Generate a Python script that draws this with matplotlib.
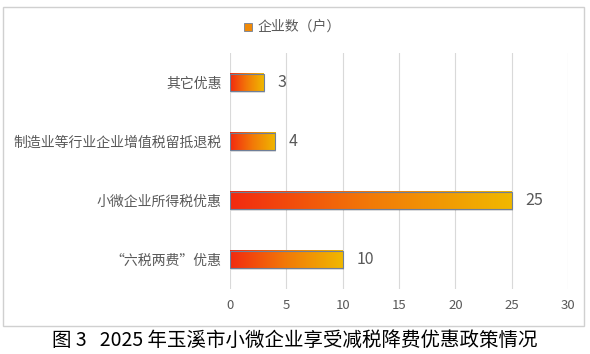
import matplotlib
matplotlib.use("Agg")
import matplotlib.pyplot as plt
import numpy as np
from matplotlib.colors import LinearSegmentedColormap
from matplotlib.patches import Rectangle

plt.rcParams['font.family'] = ['Noto Sans CJK SC', 'DejaVu Sans']

# data, top to bottom as in the picture
categories = ["其它优惠", "制造业等行业企业增值税留抵退税", "小微企业所得税优惠", "“六税两费”优惠"]
values = [3, 4, 25, 10]
series_name = "企业数（户）"
xticks = [0, 5, 10, 15, 20, 25, 30]
caption = "图 3   2025 年玉溪市小微企业享受减税降费优惠政策情况"

grad = LinearSegmentedColormap.from_list("g", ["#f32a10", "#f27a08", "#f0b800"])
txt = "#595959"

fig = plt.figure(figsize=(5.9, 3.54), dpi=100)
ax = fig.add_axes([230/590, 1-289/354, 338/590, 236/354])

ypos = np.arange(len(categories))[::-1]
bars = ax.barh(ypos, values, height=0.29, color="none", edgecolor="#6f7f99", linewidth=0.8, zorder=4)

g = np.linspace(0, 1, 256).reshape(1, -1)
for b in bars:
    x0, y0 = b.get_x(), b.get_y()
    w, h = b.get_width(), b.get_height()
    # soft shadow
    ax.add_patch(Rectangle((x0 + 0.12, y0 - 0.04), w, h, color="#000000", alpha=0.12, lw=0, zorder=2))
    ax.imshow(g, cmap=grad, aspect="auto", extent=(x0, x0 + w, y0, y0 + h), zorder=3)
    ax.text(x0 + w + 1.2, y0 + h/2, str(int(w)), va="center", ha="left", fontsize=11.5, color=txt)

ax.set_xlim(0, 30)
ax.set_ylim(-0.5, 3.5)
ax.set_xticks(xticks)
ax.set_xticklabels([str(t) for t in xticks], fontsize=9.5, color=txt)
ax.set_yticks(ypos)
ax.set_yticklabels(categories, fontsize=10, color=txt)
ax.tick_params(length=0, pad=6)
ax.tick_params(axis="x", pad=7)
ax.grid(axis="x", color="#d9d9d9", linewidth=0.8, zorder=0)
ax.set_axisbelow(True)
for s in ax.spines.values():
    s.set_visible(False)

# legend
lx, ly = 248/590, 1-27/354
fig.add_artist(Rectangle((lx - 4/590, ly - 4/354), 8/590, 8/354, transform=fig.transFigure,
                         facecolor="#f08a08", edgecolor="#6f7f99", lw=0.6))
fig.text(lx + 10/590, ly, series_name, fontsize=10, color=txt, va="center", ha="left")

# chart border
fig.add_artist(Rectangle((3/590, 1-326/354), 581/590, 319/354, transform=fig.transFigure,
                         fill=False, edgecolor="#d0d0d0", lw=1))

fig.text(295/590, 1-340/354, caption, fontsize=14, color="black", ha="center", va="center", weight="medium")

fig.savefig("out.png", dpi=100)
